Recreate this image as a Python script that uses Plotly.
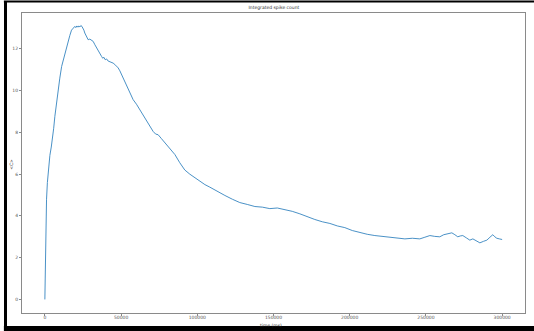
import plotly.graph_objects as go

time_ms = [0, 200, 400, 650, 1100, 1650, 2200, 3300, 4200, 5050, 5800, 6560, 7600, 8700, 9800,
           11000, 12000, 13100, 14200, 15300, 16400, 17500, 18600, 19700, 20300, 21000, 21700,
           22300, 23000, 23600, 24300, 25100, 25600, 26200, 27300, 28400, 29500, 30600, 31700,
           32800, 33900, 35500, 37200, 38000, 38700, 39600, 40500, 41500, 42600, 43700, 44800,
           46400, 48100, 49200, 50300, 52000, 53600, 55700, 57900, 60100, 62300, 64500, 66700,
           68800, 71000, 72700, 74300, 76500, 78700, 82000, 85300, 88500, 91800, 95100, 98400,
           101700, 105000, 108200, 111500, 114800, 118100, 123000, 127900, 132800, 137800,
           142700, 147600, 152500, 157400, 162300, 167300, 172200, 177100, 182000, 187000,
           191900, 196800, 201700, 206600, 211500, 216500, 221400, 226300, 231200, 236200,
           241100, 246000, 249300, 252600, 255800, 259100, 261700, 264400, 267000, 269000,
           270900, 272500, 274200, 276500, 278800, 280800, 283100, 285400, 287700, 290000,
           292000, 293900, 295200, 296500, 298200, 300000]

mean_count = [0.0, 1.5, 3.0, 4.0, 4.8, 5.6, 6.2, 6.9, 7.3, 7.7, 8.2, 8.77, 9.45, 10.05, 10.6,
              11.16, 11.45, 11.8, 12.1, 12.36, 12.65, 12.9, 13.0, 13.08, 13.02, 13.1, 13.04,
              13.1, 13.05, 13.12, 13.08, 13.0, 12.9, 12.76, 12.58, 12.44, 12.47, 12.4, 12.36,
              12.2, 12.04, 11.85, 11.64, 11.55, 11.6, 11.48, 11.52, 11.42, 11.38, 11.35, 11.32,
              11.22, 11.09, 10.95, 10.77, 10.5, 10.2, 9.9, 9.57, 9.35, 9.09, 8.8, 8.53,
              8.28, 8.05, 7.92, 7.89, 7.7, 7.5, 7.2, 6.94, 6.55, 6.2, 6.0, 5.84,
              5.65, 5.5, 5.38, 5.26, 5.1, 4.98, 4.8, 4.64, 4.55, 4.45,
              4.42, 4.35, 4.38, 4.3, 4.22, 4.1, 3.95, 3.83, 3.72, 3.64,
              3.52, 3.44, 3.3, 3.2, 3.12, 3.06, 3.02, 3.0, 2.95, 2.9,
              2.93, 2.9, 2.98, 3.06, 3.02, 3.0, 3.1, 3.16, 3.19, 3.1,
              3.0, 3.04, 3.06, 2.95, 2.84, 2.9, 2.8, 2.71, 2.78, 2.84,
              2.98, 3.1, 3.0, 2.93, 2.9, 2.87]

x_ticks = [0, 50000, 100000, 150000, 200000, 250000, 300000]
y_ticks = [0, 2, 4, 6, 8, 10, 12]

fig = go.Figure()
fig.add_trace(go.Scatter(x=time_ms, y=mean_count, mode="lines",
                         line=dict(color="#3584c0", width=0.9), hoverinfo="skip"))

axis_common = dict(showline=True, linecolor="#8a8a8a", linewidth=1, mirror=True,
                   showgrid=False, zeroline=False, ticks="outside", ticklen=2,
                   tickcolor="#8a8a8a", tickfont=dict(family="DejaVu Sans", size=4.5, color="#555"))

fig.update_xaxes(range=[-15000, 315000], tickvals=x_ticks,
                 ticktext=[str(v) for v in x_ticks], ticklabelstandoff=-2, **axis_common)
fig.update_yaxes(range=[-0.65, 13.72], tickvals=y_ticks,
                 ticktext=[str(v) for v in y_ticks], **axis_common)

fig.update_layout(
    width=534, height=331,
    margin=dict(l=22, r=9, t=13, b=18),
    paper_bgcolor="white", plot_bgcolor="white",
    showlegend=False,
    title=dict(text="Integrated spike count", x=0.513, xanchor="center",
               y=1 - 7 / 331, yanchor="middle",
               font=dict(family="DejaVu Sans", size=4.5, color="#333")),
    annotations=[
        dict(text="time (ms)", xref="paper", yref="paper", x=0.495, y=-0.04,
             showarrow=False, xanchor="center", yanchor="middle",
             font=dict(family="DejaVu Sans", size=4.5, color="#333")),
        dict(text="&lt;C&gt;", xref="paper", yref="paper", x=-0.02, y=0.497,
             showarrow=False, xanchor="center", yanchor="middle", textangle=-90,
             font=dict(family="DejaVu Sans", size=4.5, color="#333")),
    ],
    shapes=[
        dict(type="line", xref="paper", yref="paper", x0=-0.0328, x1=-0.0328,
             y0=-0.06, y1=1.04, line=dict(color="black", width=3)),
        dict(type="line", xref="paper", yref="paper", x0=-0.036, x1=1.05,
             y0=1.038, y1=1.038, line=dict(color="black", width=2)),
        dict(type="line", xref="paper", yref="paper", x0=-0.036, x1=1.05,
             y0=-0.052, y1=-0.052, line=dict(color="black", width=5)),
    ],
)

fig.write_html("out.html")
